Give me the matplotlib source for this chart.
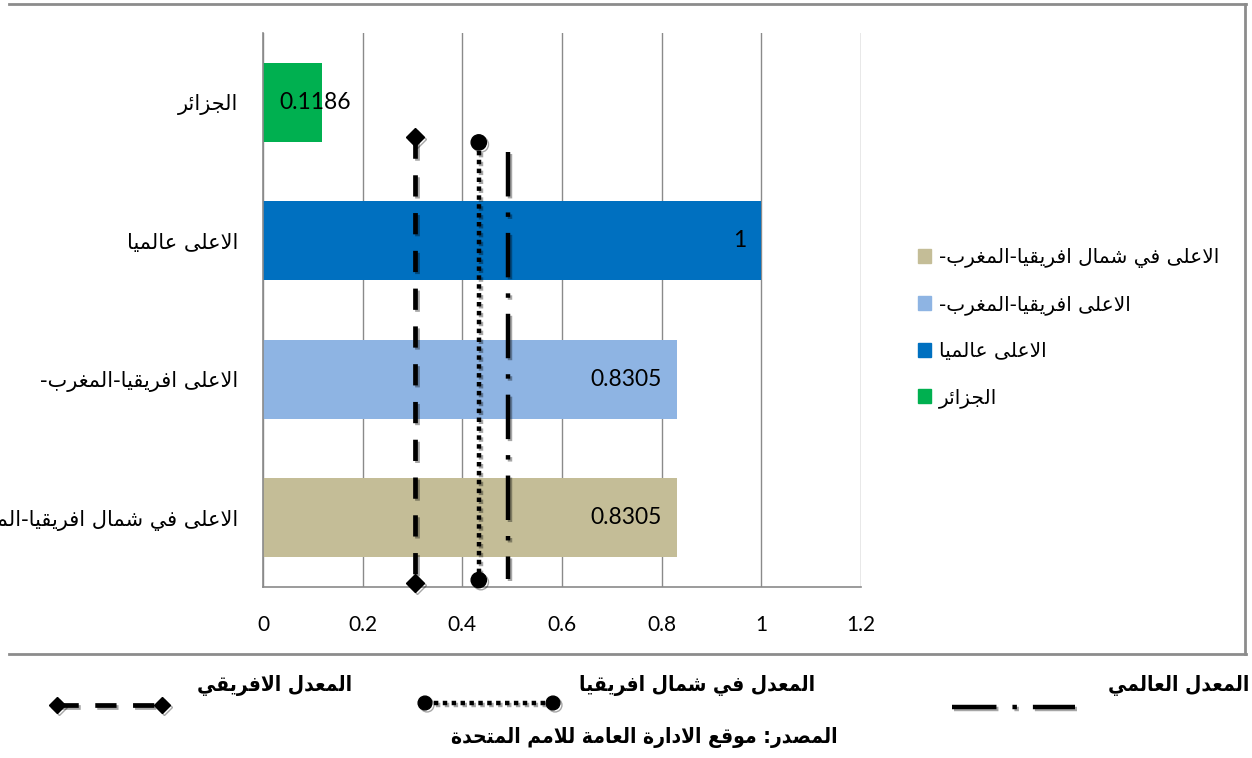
import matplotlib
matplotlib.use("Agg")
import matplotlib.pyplot as plt
from matplotlib.lines import Line2D
from matplotlib.patches import Patch
import matplotlib.patheffects as pe

# bars, top to bottom as in the picture
categories = ["الجزائر", "الاعلى عالميا", "الاعلى افريقيا-المغرب-", "الاعلى في شمال افريقيا-المغرب-"]
values = [0.1186, 1, 0.8305, 0.8305]
bar_colors = ["#00B050", "#0070C0", "#8EB4E3", "#C4BD97"]

# reference averages drawn as vertical lines
avg_names = ["المعدل الافريقي", "المعدل في شمال افريقيا", "المعدل العالمي"]
avg_values = [0.305, 0.433, 0.492]

xticks = [0, 0.2, 0.4, 0.6, 0.8, 1, 1.2]
source_text = "المصدر: موقع الادارة العامة للامم المتحدة"

# --- minimal arabic shaping (no arabic_reshaper in the sandbox) ---
DUAL = {'ب': 0xFE8F, 'ت': 0xFE95, 'ج': 0xFE9D, 'ح': 0xFEA1, 'ش': 0xFEB5, 'ص': 0xFEB9,
        'ع': 0xFEC9, 'غ': 0xFECD, 'ف': 0xFED1, 'ق': 0xFED5, 'ل': 0xFEDD, 'م': 0xFEE1,
        'ي': 0xFEF1, 'ئ': 0xFE89, 'ه': 0xFEE9, 'ن': 0xFEE5}
RIGHT = {'ا': 0xFE8D, 'ة': 0xFE93, 'د': 0xFEA9, 'ر': 0xFEAD, 'ز': 0xFEAF, 'و': 0xFEED,
         'ى': 0xFEEF, 'LA': 0xFEFB}


def ar(text):
    chars = []
    i = 0
    while i < len(text):
        if text[i] == 'ل' and i + 1 < len(text) and text[i + 1] == 'ا':
            chars.append('LA')
            i += 2
        else:
            chars.append(text[i])
            i += 1
    out = []
    for k, c in enumerate(chars):
        base = DUAL.get(c) or RIGHT.get(c)
        if base is None:
            out.append(c)
            continue
        prev = chars[k - 1] if k > 0 else None
        nxt = chars[k + 1] if k + 1 < len(chars) else None
        join_prev = prev in DUAL
        join_next = c in DUAL and (nxt in DUAL or nxt in RIGHT)
        if join_prev and join_next:
            code = base + 3
        elif join_next:
            code = base + 2
        elif join_prev:
            code = base + 1
        else:
            code = base
        out.append(chr(code))
    return ''.join(reversed(out))


plt.rcParams['font.family'] = ['DejaVu Sans']
num_font = ['Lato', 'DejaVu Sans']
shadow = [pe.SimpleLineShadow(offset=(1.5, -1.5), alpha=0.35, rho=0.6), pe.Normal()]

fig = plt.figure(figsize=(12.52, 7.58), dpi=100)
ax = fig.add_axes([263 / 1252, 1 - 587 / 758, 598 / 1252, 554 / 758])

ypos = list(range(len(categories)))
ax.barh(ypos, values, height=0.57, color=bar_colors, zorder=2)

for y, v in zip(ypos, values):
    label = f"{v:g}"
    if v < 0.2:
        ax.annotate(label, (0, y), xytext=(12, 0), textcoords='offset points',
                    ha='left', va='center', fontsize=16.5, family=num_font, zorder=4)
    else:
        ax.annotate(label, (v, y), xytext=(-11, 0), textcoords='offset points',
                    ha='right', va='center', fontsize=16.5, family=num_font, zorder=4)

# average lines: african (dashed, diamonds), north africa (dotted, circles), world (dash-dot)
line_styles = [
    dict(dashes=(4.5, 3.5), marker='D', ms=9, lw=3.4),
    dict(dashes=(1, 1), marker='o', ms=11, lw=3.2),
    dict(dashes=(10, 3.6, 1, 3.6), marker=None, ms=0, lw=3.2),
]
line_spans = [(0.25, 3.47), (0.29, 3.45), (0.36, 3.44)]
for x, (y0, y1), st in zip(avg_values, line_spans, line_styles):
    ax.plot([x, x], [y0, y1], color='black', lw=st['lw'], dashes=st['dashes'],
            marker=st['marker'], ms=st['ms'], zorder=5, clip_on=False, path_effects=shadow)

ax.set_xlim(0, 1.2)
ax.set_ylim(3.5, -0.5)
ax.set_xticks(xticks, labels=[f"{t:g}" for t in xticks], family=num_font, fontsize=15)
ax.set_yticks(ypos, labels=[ar(c) for c in categories], fontsize=15)
ax.tick_params(axis='x', length=0, pad=20)
ax.tick_params(axis='y', length=0, pad=18)
ax.grid(axis='x', color='#8a8a8a', lw=1, zorder=0)
ax.set_axisbelow(True)
for s in ['top', 'right']:
    ax.spines[s].set_visible(False)
for s in ['left', 'bottom']:
    ax.spines[s].set_color('#8a8a8a')
    ax.spines[s].set_linewidth(1.2)

# right legend, order as in picture (bottom bar first)
handles = [Patch(color=c) for c in bar_colors[::-1]]
fig.legend(handles, [ar(c) for c in categories[::-1]], loc='center left',
           bbox_to_anchor=(900 / 1252, 1 - 328 / 758), frameon=False, fontsize=14.5,
           handlelength=0.65, handleheight=0.65, handletextpad=0.4, labelspacing=1.35)

# outer frame (top, right, bottom)
frame_kw = dict(color='#8c8c8c', lw=2, transform=fig.transFigure)
fig.add_artist(Line2D([9 / 1252, 1246 / 1252], [1 - 4 / 758, 1 - 4 / 758], **frame_kw))
fig.add_artist(Line2D([1245 / 1252, 1245 / 1252], [1 - 4 / 758, 1 - 654 / 758], **frame_kw))
fig.add_artist(Line2D([9 / 1252, 1246 / 1252], [1 - 654 / 758, 1 - 654 / 758], **frame_kw))

# bottom legend for the average lines
text_kw = dict(fontsize=15, fontweight='bold', fontstretch='condensed', va='center')
fig.text(352 / 1252, 1 - 686 / 758, ar(avg_names[0]), ha='right', **text_kw)
fig.text(815 / 1252, 1 - 685 / 758, ar(avg_names[1]), ha='right', **text_kw)
fig.text(1249 / 1252, 1 - 686 / 758, ar(avg_names[2]), ha='right', **text_kw)
fig.text(644 / 1252, 1 - 738 / 758, ar(source_text), ha='center', **text_kw)

samples = [((57, 162), 705), ((425, 553), 703), ((952, 1075), 707)]
for ((xa, xb), yy), st in zip(samples, line_styles):
    fig.add_artist(Line2D([xa / 1252, xb / 1252], [1 - yy / 758, 1 - yy / 758],
                          transform=fig.transFigure, color='black', lw=st['lw'],
                          dashes=st['dashes'], marker=st['marker'], ms=st['ms'] * 0.9,
                          path_effects=shadow))

fig.savefig("out.png", dpi=100)
